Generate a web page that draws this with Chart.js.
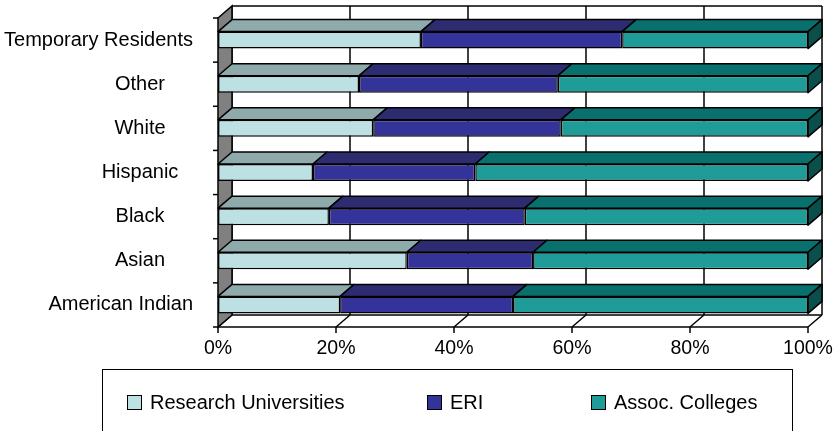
<!DOCTYPE html>
<html>
<head>
<meta charset="utf-8">
<script src="https://cdn.jsdelivr.net/npm/chart.js@4/dist/chart.umd.min.js"></script>
<style>
  html, body { margin: 0; padding: 0; background: #fff; }
  #wrap { width: 839px; height: 431px; }
</style>
</head>
<body>
<div id="wrap"><canvas id="chart" width="839" height="431"></canvas></div>
<script>
// Chart data
const categories    = ['Temporary Residents', 'Other', 'White', 'Hispanic', 'Black', 'Asian', 'American Indian'];
const researchUniv  = [34.4, 23.9, 26.3, 16.1, 18.8, 32.0, 20.7];
const eri           = [34.1, 33.7, 31.8, 27.5, 33.2, 21.4, 29.3];
const assocColleges = [31.5, 42.4, 41.9, 56.4, 48.0, 46.6, 50.0];
const xTicks        = [0, 20, 40, 60, 80, 100];
const seriesNames   = ['Research Universities', 'ERI', 'Assoc. Colleges'];

// colours: front face, top face, side face
const fronts = ['#bde0e3', '#333399', '#1f9c98'];
const tops   = ['#8eaaab', '#2e2c70', '#08716e'];
const sides  = ['#8eaaab', '#2e2c70', '#0b4f4d'];

const FONT      = '20px "Liberation Sans", Arial, sans-serif';
const TICK_FONT = '19.5px "Liberation Sans", Arial, sans-serif';
const DX = 14, DY = 12;

function line(ctx, x1, y1, x2, y2) {
  ctx.beginPath();
  ctx.moveTo(x1, y1);
  ctx.lineTo(x2, y2);
  ctx.stroke();
}

function poly(ctx, pts, fill) {
  ctx.beginPath();
  ctx.moveTo(pts[0][0], pts[0][1]);
  pts.slice(1).forEach((p) => ctx.lineTo(p[0], p[1]));
  ctx.closePath();
  if (fill) { ctx.fillStyle = fill; ctx.fill(); }
  ctx.stroke();
}

// Walls, floor, axes and labels (behind the bars)
const wallsPlugin = {
  id: 'walls',
  beforeDatasetsDraw(chart) {
    const { ctx, chartArea: a, scales: { x, y } } = chart;
    ctx.save();
    ctx.strokeStyle = '#000';
    ctx.lineWidth = 1.5;

    // back wall gridlines
    xTicks.forEach((v) => {
      const px = x.getPixelForValue(v) + DX;
      line(ctx, px, a.top - DY, px, a.bottom - DY);
    });
    line(ctx, a.left + DX, a.top - DY, a.right + DX, a.top - DY);

    // floor
    line(ctx, a.left + DX, a.bottom - DY, a.right + DX, a.bottom - DY);
    line(ctx, a.left, a.bottom, a.right, a.bottom);
    xTicks.forEach((v) => {
      const px = x.getPixelForValue(v);
      line(ctx, px, a.bottom, px + DX, a.bottom - DY);
      line(ctx, px, a.bottom, px, a.bottom + 6);
    });

    // left wall
    poly(ctx, [[a.left, a.top], [a.left + DX, a.top - DY], [a.left + DX, a.bottom - DY], [a.left, a.bottom]], '#808080');

    // category tick marks
    const slot = (a.bottom - a.top) / categories.length;
    for (let k = 0; k <= categories.length; k++) {
      const py = a.top + k * slot;
      line(ctx, a.left - 5, py, a.left, py);
    }

    // x tick labels
    ctx.fillStyle = '#000';
    ctx.font = TICK_FONT;
    ctx.textAlign = 'center';
    ctx.textBaseline = 'middle';
    xTicks.forEach((v) => {
      ctx.fillText(v + '%', x.getPixelForValue(v), a.bottom + 22);
    });

    // category labels, centred but kept clear of the axis
    ctx.font = FONT;
    categories.forEach((c, i) => {
      const w = ctx.measureText(c).width;
      const cx = Math.min(140, 193 - w / 2);
      ctx.fillText(c, cx, y.getPixelForValue(i));
    });
    ctx.restore();
  },

  // 3D top and side faces of the bars
  afterDatasetsDraw(chart) {
    const { ctx } = chart;
    ctx.save();
    ctx.strokeStyle = '#000';
    ctx.lineWidth = 1.5;
    ctx.lineJoin = 'round';
    const last = chart.data.datasets.length - 1;
    chart.data.datasets.forEach((ds, di) => {
      chart.getDatasetMeta(di).data.forEach((bar) => {
        const { x: x1, y: yc, base: x0, height: h } = bar.getProps(['x', 'y', 'base', 'height'], true);
        const yt = yc - h / 2, yb = yc + h / 2;
        poly(ctx, [[x0, yt], [x1, yt], [x1 + DX, yt - DY], [x0 + DX, yt - DY]], tops[di]);
        if (di === last) {
          poly(ctx, [[x1, yt], [x1 + DX, yt - DY], [x1 + DX, yb - DY], [x1, yb]], sides[di]);
        }
      });
    });
    ctx.restore();
  },

  // legend box
  afterDraw(chart) {
    const { ctx } = chart;
    const itemX = [127, 427, 591];
    ctx.save();
    ctx.strokeStyle = '#000';
    ctx.lineWidth = 1;
    ctx.strokeRect(102.5, 369.5, 690, 80);
    ctx.font = FONT;
    ctx.textBaseline = 'middle';
    ctx.textAlign = 'left';
    seriesNames.forEach((name, i) => {
      ctx.fillStyle = fronts[i];
      ctx.fillRect(itemX[i] + 0.5, 395.5, 14, 14);
      ctx.strokeRect(itemX[i] + 0.5, 395.5, 14, 14);
      ctx.fillStyle = '#000';
      ctx.fillText(name, itemX[i] + 23, 403);
    });
    ctx.restore();
  },
};

const seriesData = [researchUniv, eri, assocColleges];

new Chart(document.getElementById('chart'), {
  type: 'bar',
  data: {
    labels: categories,
    datasets: seriesNames.map((name, i) => ({
      label: name,
      data: seriesData[i],
      backgroundColor: fronts[i],
      borderColor: '#000',
      borderWidth: 1.5,
      borderSkipped: false,
      categoryPercentage: 1,
      barPercentage: 0.385,
      clip: false,
    })),
  },
  options: {
    indexAxis: 'y',
    responsive: false,
    animation: false,
    layout: { padding: { left: 218, right: 31, top: 18, bottom: 104 } },
    plugins: { legend: { display: false }, tooltip: { enabled: false } },
    scales: {
      x: { stacked: true, min: 0, max: 100, display: false },
      y: { stacked: true, display: false },
    },
  },
  plugins: [wallsPlugin],
});
</script>
</body>
</html>
